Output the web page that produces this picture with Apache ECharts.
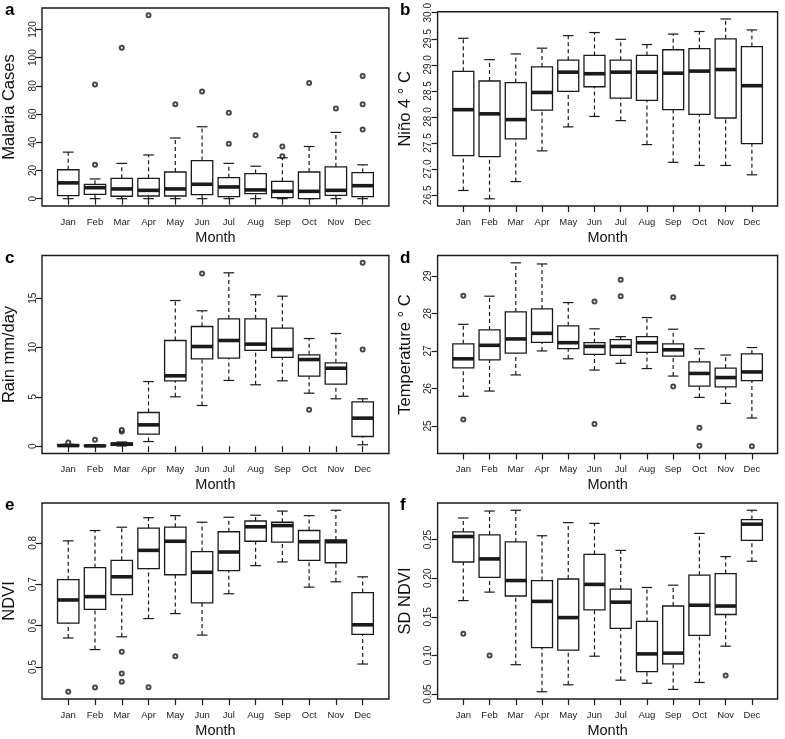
<!DOCTYPE html>
<html>
<head>
<meta charset="utf-8">
<script src="https://cdn.jsdelivr.net/npm/echarts@6/dist/echarts.min.js"></script>
<style>
html, body { margin: 0; padding: 0; background: #fff; }
#chart { width: 785px; height: 739px; }
</style>
</head>
<body>
<div id="chart"></div>
<script>
var months = ['Jan', 'Feb', 'Mar', 'Apr', 'May', 'Jun', 'Jul', 'Aug', 'Sep', 'Oct', 'Nov', 'Dec'];

// each row: [lower whisker, Q1, median, Q3, upper whisker], Jan..Dec
var malariaBox = [
    [0, 2.2, 11.2, 20.5, 33], [0, 3.1, 7.8, 10.2, 14], [0, 1.7, 6.9, 14.4, 25], [0, 1.9, 5.9, 14.4, 31],
    [0, 1.9, 6.9, 18.9, 43], [0, 2.8, 10.2, 27, 51], [0, 1.4, 8.3, 14.9, 25], [0, 3.6, 6.2, 17.8, 23],
    [0, 0.7, 5.2, 12.3, 29], [0, 0, 5.2, 18.9, 37], [0, 2.4, 5.9, 22.5, 47], [0, 1.4, 9.2, 18.5, 24]
];
// outliers: [month number, value]
var malariaOut = [[2, 24], [2, 81], [3, 107], [4, 130], [5, 67], [6, 76], [7, 39], [7, 61], [8, 45],
    [9, 30], [9, 37], [10, 82], [11, 64], [12, 49], [12, 67], [12, 87]];

var ninoBox = [
    [26.59, 27.26, 28.14, 28.875, 29.51], [26.43, 27.24, 28.06, 28.69, 29.1], [26.76, 27.58, 27.95, 28.66, 29.21],
    [27.35, 28.13, 28.47, 28.96, 29.32], [27.81, 28.49, 28.86, 29.09, 29.56], [28.01, 28.58, 28.83, 29.18, 29.62],
    [27.93, 28.36, 28.86, 29.09, 29.49], [27.47, 28.32, 28.86, 29.18, 29.39], [27.13, 28.14, 28.84, 29.29, 29.59],
    [27.07, 28.05, 28.88, 29.31, 29.64], [27.07, 27.98, 28.91, 29.5, 29.88], [26.89, 27.49, 28.6, 29.35, 29.67]
];
var ninoOut = [];

var rainBox = [
    [0, 0.02, 0.06, 0.12, 0.2], [0, 0.01, 0.03, 0.08, 0.15], [0.02, 0.08, 0.2, 0.32, 0.42],
    [0.47, 1.22, 2.16, 3.41, 6.55], [5.0, 6.62, 7.13, 10.71, 14.76], [4.12, 8.85, 10.1, 12.13, 13.72],
    [6.66, 8.92, 10.71, 12.9, 17.57], [6.22, 9.7, 10.34, 12.9, 15.34], [6.62, 8.99, 9.8, 11.96, 15.2],
    [5.37, 7.09, 8.78, 9.26, 10.91], [4.8, 6.28, 7.9, 8.45, 11.42], [0.14, 0.98, 2.84, 4.49, 4.8]
];
var rainOut = [[1, 0.37], [2, 0.64], [3, 1.48], [3, 1.65], [6, 17.5], [10, 3.68], [12, 9.8], [12, 18.58]];

var tempBox = [
    [25.79, 26.55, 26.79, 27.19, 27.71], [25.93, 26.76, 27.15, 27.56, 28.46], [26.36, 26.94, 27.32, 28.04, 29.35],
    [27.0, 27.23, 27.47, 28.12, 29.32], [26.79, 27.06, 27.22, 27.67, 28.29], [26.49, 26.91, 27.12, 27.22, 27.59],
    [26.67, 26.88, 27.12, 27.3, 27.38], [26.53, 26.96, 27.22, 27.38, 27.89], [26.33, 26.86, 27.03, 27.19, 27.58],
    [25.76, 26.06, 26.4, 26.71, 27.06], [25.6, 26.04, 26.29, 26.54, 26.89], [25.21, 26.21, 26.44, 26.92, 27.09]
];
var tempOut = [[1, 25.17], [1, 28.47], [6, 25.05], [6, 28.32], [7, 28.46], [7, 28.9], [9, 26.05], [9, 28.43],
    [10, 24.47], [10, 24.95], [12, 24.46]];

var ndviBox = [
    [0.570, 0.606, 0.662, 0.711, 0.805], [0.542, 0.639, 0.670, 0.740, 0.830], [0.573, 0.675, 0.718, 0.758, 0.838],
    [0.617, 0.738, 0.782, 0.836, 0.861], [0.629, 0.723, 0.804, 0.838, 0.866], [0.577, 0.655, 0.729, 0.779, 0.850],
    [0.677, 0.733, 0.778, 0.827, 0.862], [0.745, 0.804, 0.839, 0.853, 0.867], [0.754, 0.802, 0.842, 0.850, 0.877],
    [0.693, 0.758, 0.803, 0.830, 0.866], [0.706, 0.752, 0.803, 0.807, 0.879], [0.507, 0.579, 0.602, 0.680, 0.718]
];
var ndviOut = [[1, 0.44], [2, 0.45], [3, 0.464], [3, 0.484], [3, 0.537], [4, 0.451], [5, 0.526]];

var sdNdviBox = [
    [0.171, 0.221, 0.254, 0.260, 0.278], [0.182, 0.201, 0.225, 0.256, 0.287], [0.088, 0.177, 0.197, 0.247, 0.288],
    [0.053, 0.110, 0.170, 0.197, 0.255], [0.062, 0.107, 0.149, 0.199, 0.272], [0.099, 0.159, 0.192, 0.231, 0.271],
    [0.068, 0.135, 0.169, 0.186, 0.236], [0.064, 0.079, 0.102, 0.144, 0.188], [0.056, 0.089, 0.103, 0.164, 0.191],
    [0.065, 0.126, 0.165, 0.204, 0.258], [0.112, 0.153, 0.164, 0.206, 0.228], [0.222, 0.249, 0.270, 0.276, 0.288]
];
var sdNdviOut = [[1, 0.128], [2, 0.100], [11, 0.074]];

var panels = [
    {tag: 'a', name: 'Malaria Cases', box: malariaBox, out: malariaOut, ticks: [0, 20, 40, 60, 80, 100, 120], digits: 0},
    {tag: 'b', name: 'Niño 4 ° C', box: ninoBox, out: ninoOut, ticks: [26.5, 27, 27.5, 28, 28.5, 29, 29.5, 30], digits: 1},
    {tag: 'c', name: 'Rain mm/day', box: rainBox, out: rainOut, ticks: [0, 5, 10, 15], digits: 0},
    {tag: 'd', name: 'Temperature ° C', box: tempBox, out: tempOut, ticks: [25, 26, 27, 28, 29], digits: 0},
    {tag: 'e', name: 'NDVI', box: ndviBox, out: ndviOut, ticks: [0.5, 0.6, 0.7, 0.8], digits: 1},
    {tag: 'f', name: 'SD NDVI', box: sdNdviBox, out: sdNdviOut, ticks: [0.05, 0.1, 0.15, 0.2, 0.25], digits: 2}
];

// plot regions, px
var colLeft = [40.4, 437.6];
var colWidth = [348.5, 340];
var rowTop = [8, 255.5, 503];
var plotHeight = 198;

var ink = '#1a1a1a';
var font = 'Liberation Sans';
var monthNums = [1, 2, 3, 4, 5, 6, 7, 8, 9, 10, 11, 12];

// R style: data range stretched by 4% each side
function paddedRange(box, out) {
    var lo = Infinity, hi = -Infinity;
    box.forEach(function (b) {
        lo = Math.min(lo, b[0]);
        hi = Math.max(hi, b[4]);
    });
    out.forEach(function (o) {
        lo = Math.min(lo, o[1]);
        hi = Math.max(hi, o[1]);
    });
    var pad = (hi - lo) * 0.04;
    return [lo - pad, hi + pad];
}

function renderBox(params, api) {
    var x = api.value(0);
    var lo = api.coord([x, api.value(1)]);
    var q1 = api.coord([x, api.value(2)]);
    var md = api.coord([x, api.value(3)]);
    var q3 = api.coord([x, api.value(4)]);
    var hi = api.coord([x, api.value(5)]);
    var half = api.size([0.8, 0])[0] / 2;
    var cap = half / 2;
    var cx = md[0];
    var dashed = {stroke: ink, lineWidth: 1.2, lineDash: [4, 3]};
    var solid = {stroke: ink, lineWidth: 1.2};
    return {
        type: 'group',
        children: [
            {type: 'line', shape: {x1: cx, y1: q3[1], x2: cx, y2: hi[1]}, style: dashed},
            {type: 'line', shape: {x1: cx, y1: lo[1], x2: cx, y2: q1[1]}, style: dashed},
            {type: 'line', shape: {x1: cx - cap, y1: hi[1], x2: cx + cap, y2: hi[1]}, style: solid},
            {type: 'line', shape: {x1: cx - cap, y1: lo[1], x2: cx + cap, y2: lo[1]}, style: solid},
            {type: 'rect', shape: {x: cx - half, y: q3[1], width: half * 2, height: q1[1] - q3[1]},
                style: {fill: '#fff', stroke: ink, lineWidth: 1.3}},
            {type: 'line', shape: {x1: cx - half, y1: md[1], x2: cx + half, y2: md[1]},
                style: {stroke: ink, lineWidth: 3.6}}
        ]
    };
}

var option = {
    animation: false,
    backgroundColor: '#fff',
    textStyle: {fontFamily: font},
    title: [],
    grid: [],
    xAxis: [],
    yAxis: [],
    series: []
};

panels.forEach(function (p, i) {
    var col = i % 2;
    var row = Math.floor(i / 2);
    var range = paddedRange(p.box, p.out);

    option.title.push({
        text: p.tag,
        left: col === 0 ? 5 : 400,
        top: rowTop[row] - 6,
        padding: 0,
        textStyle: {fontSize: 17, fontWeight: 'bold', color: '#000', fontFamily: font}
    });

    option.grid.push({
        left: colLeft[col],
        top: rowTop[row],
        width: colWidth[col],
        height: plotHeight,
        show: true,
        backgroundColor: '#fff',
        borderColor: ink,
        borderWidth: 1.4
    });

    option.xAxis.push({
        type: 'value',
        gridIndex: i,
        min: 0.02,
        max: 12.98,
        name: 'Month',
        nameLocation: 'middle',
        nameGap: 24,
        nameTextStyle: {fontSize: 14.5, color: '#111', fontFamily: font},
        axisLine: {show: false},
        splitLine: {show: false},
        axisTick: {show: true, length: 6, customValues: monthNums, lineStyle: {color: ink, width: 1.2}},
        axisLabel: {
            customValues: monthNums,
            margin: 11,
            fontSize: 9.5,
            color: '#222',
            formatter: function (v) {
                return months[Math.round(v) - 1];
            }
        }
    });

    option.yAxis.push({
        type: 'value',
        gridIndex: i,
        min: range[0],
        max: range[1],
        name: p.name,
        nameLocation: 'middle',
        nameGap: 24,
        nameTextStyle: {fontSize: 16.5, color: '#111', fontFamily: font},
        axisLine: {show: false},
        splitLine: {show: false},
        axisTick: {show: true, length: 6, customValues: p.ticks, lineStyle: {color: ink, width: 1.2}},
        axisLabel: {
            customValues: p.ticks,
            rotate: 90,
            margin: 4,
            fontSize: 10,
            color: '#222',
            formatter: function (v) {
                return v.toFixed(p.digits);
            }
        }
    });

    option.series.push({
        type: 'custom',
        xAxisIndex: i,
        yAxisIndex: i,
        renderItem: renderBox,
        encode: {x: 0, y: [1, 2, 3, 4, 5]},
        data: p.box.map(function (b, j) {
            return [j + 1].concat(b);
        })
    });

    option.series.push({
        type: 'scatter',
        xAxisIndex: i,
        yAxisIndex: i,
        symbol: 'emptyCircle',
        symbolSize: 4,
        itemStyle: {color: ink, borderWidth: 1},
        data: p.out
    });
});

var myChart = echarts.init(document.getElementById('chart'));
myChart.setOption(option);
</script>
</body>
</html>
